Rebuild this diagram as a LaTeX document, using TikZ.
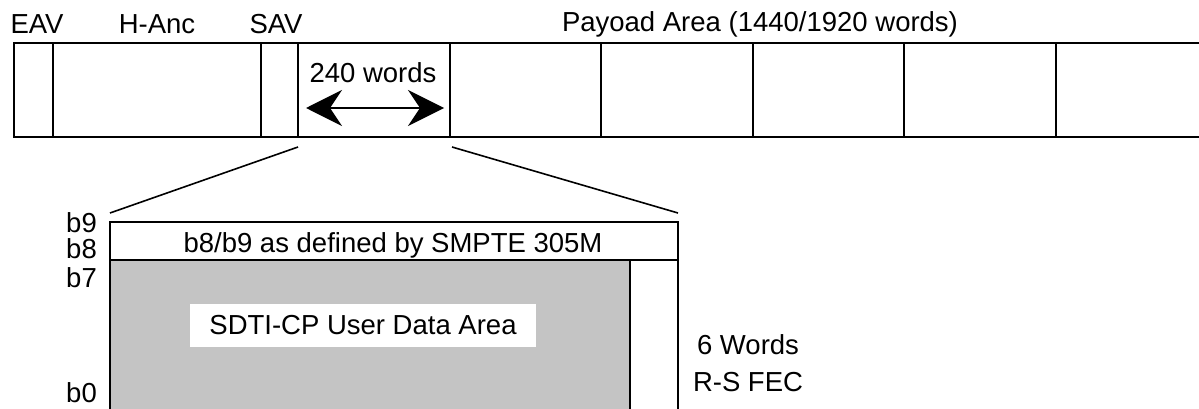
\documentclass[tikz,border=0pt]{standalone}
\usepackage{fontspec}
\setmainfont{Liberation Sans}
\usetikzlibrary{arrows.meta}
\definecolor{areagray}{RGB}{196,196,196}
\tikzset{
  lbl/.style={inner sep=0pt, font=\fontsize{27.5}{30}\selectfont},
  ln/.style={line width=1.6pt, black},
  thick line/.style={line width=2.6pt, black},
}
\begin{document}
\begin{tikzpicture}[x=1pt,y=-1pt]
\useasboundingbox (0,0) rectangle (1199,409);
\clip (0,0) rectangle (1199,409);
% top bar
\draw[ln] (1199,43) -- (14,43) -- (14,137) -- (298,137);
\draw[thick line] (298,137) -- (1199,137);
\foreach \x/\n in {53/a,261/b,298/c,450/d,601/e,753/f,904/g,1056/h}{
  \coordinate (t\n) at (\x,43);
  \coordinate (b\n) at (\x,137);
  \draw[ln] (t\n) -- (b\n);
}
% header labels
\node[lbl] (eav) at (37,24) {EAV};
\node[lbl] (hanc) at (157,24) {H-Anc};
\node[lbl] (sav) at (276,24) {SAV};
\node[lbl] (pay) at (760,24) {Payoad Area (1440/1920 words)};
\node[lbl] (w240) at (373,73) {240 words};
\coordinate (al) at (306,108);
\coordinate (ar) at (444,108);
\draw[line width=1.6pt, {Stealth[length=36pt,width=36pt,inset=12pt]}-{Stealth[length=36pt,width=36pt,inset=12pt]}] (al) -- (ar);
% zoom lines
\coordinate (z1) at (298,147);
\coordinate (z2) at (452,147);
\coordinate (c1) at (110,213);
\coordinate (c2) at (678,213);
\draw[ln] (z1) -- (c1);
\draw[ln] (z2) -- (c2);
% lower box
\fill[areagray] (110,260) rectangle (630,409);
\draw[ln] (110,409) -- (110,222) -- (678,222) -- (678,409);
\draw[ln] (110,260) -- (678,260);
\draw[ln] (630,260) -- (630,409);
\node[lbl] (smpte) at (393,245) {b8/b9 as defined by SMPTE 305M};
\node[lbl, fill=white, minimum width=346pt, minimum height=43pt] (uda) at (363,325.5) {SDTI-CP User Data Area};
\node[lbl, anchor=east] (b9) at (97,223) {b9};
\node[lbl, anchor=east] (b8) at (97,249) {b8};
\node[lbl, anchor=east] (b7) at (97,278) {b7};
\node[lbl, anchor=east] (b0) at (97,393) {b0};
\node[lbl] (w6) at (748,345) {6 Words};
\node[lbl] (rs) at (748,382) {R-S FEC};
\end{tikzpicture}
\end{document}
